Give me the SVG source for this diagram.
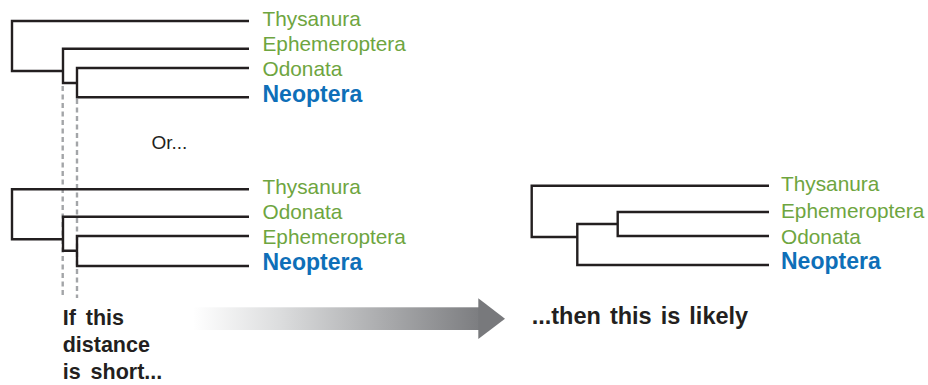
<svg xmlns="http://www.w3.org/2000/svg" width="928" height="385" viewBox="0 0 928 385">
  <defs>
    <style>
      .branch { fill: none; stroke: #231f20; stroke-width: 2.4; stroke-linejoin: miter; stroke-linecap: butt; }
      .guide { fill: none; stroke: #a3a5a8; stroke-width: 2.4; stroke-dasharray: 5 3.5; }
      .taxon { font-family: "Liberation Sans", Arial, sans-serif; font-size: 20.8px; fill: #6ea540; }
      .focus { font-family: "Liberation Sans", Arial, sans-serif; font-size: 23px; font-weight: bold; fill: #0e6fb8; }
      .note { font-family: "Liberation Sans", Arial, sans-serif; font-size: 19px; fill: #231f20; }
      .caption { font-family: "Liberation Sans", Arial, sans-serif; font-size: 21.5px; font-weight: bold; fill: #231f20; word-spacing: 4px; }
      .wide { font-size: 23.5px; word-spacing: 2.5px; }
    </style>
    <linearGradient id="arrowFade" x1="193" y1="0" x2="480" y2="0" gradientUnits="userSpaceOnUse">
      <stop offset="0" stop-color="#ffffff"/>
      <stop offset="0.3" stop-color="#dcddde"/>
      <stop offset="1" stop-color="#7c7d80"/>
    </linearGradient>
  </defs>

  <rect width="928" height="385" fill="#ffffff"/>

  <!-- dashed guides marking the two internal node depths -->
  <g id="guides">
    <line class="guide" x1="62.7" y1="86" x2="62.7" y2="298"/>
    <line class="guide" x1="77" y1="99" x2="77" y2="298"/>
  </g>

  <!-- tree branches -->
  <g id="connectors">
    <!-- upper tree -->
    <path class="branch" d="M249,21 H12 V71 H63"/>
    <path class="branch" d="M249,48.7 H63 V83 H77"/>
    <path class="branch" d="M249,68 H77 V97.3 H249"/>
    <!-- lower tree -->
    <path class="branch" d="M249,189.3 H12 V239.3 H63"/>
    <path class="branch" d="M249,216.7 H63 V250.7 H77"/>
    <path class="branch" d="M249,236 H77 V266 H249"/>
    <!-- resulting tree -->
    <path class="branch" d="M769,185.7 H531.7 V237 H577.3"/>
    <path class="branch" d="M769,212 H617.7 V236 H769"/>
    <path class="branch" d="M617.7,224 H577.3 V265 H769"/>
  </g>

  <!-- upper tree labels -->
  <g id="top-thysanura"><text class="taxon" x="262.5" y="25.7">Thysanura</text></g>
  <g id="top-ephemeroptera"><text class="taxon" x="262.5" y="50.7">Ephemeroptera</text></g>
  <g id="top-odonata"><text class="taxon" x="262.5" y="76">Odonata</text></g>
  <g id="top-neoptera"><text class="focus" x="262.5" y="101.7">Neoptera</text></g>

  <g id="or-label"><text class="note" x="151.5" y="149">Or...</text></g>

  <!-- lower tree labels -->
  <g id="low-thysanura"><text class="taxon" x="262.5" y="194">Thysanura</text></g>
  <g id="low-odonata"><text class="taxon" x="262.5" y="219.3">Odonata</text></g>
  <g id="low-ephemeroptera"><text class="taxon" x="262.5" y="243.5">Ephemeroptera</text></g>
  <g id="low-neoptera"><text class="focus" x="262.5" y="270">Neoptera</text></g>

  <!-- resulting tree labels -->
  <g id="res-thysanura"><text class="taxon" x="781" y="191">Thysanura</text></g>
  <g id="res-ephemeroptera"><text class="taxon" x="781" y="218.3">Ephemeroptera</text></g>
  <g id="res-odonata"><text class="taxon" x="781" y="244">Odonata</text></g>
  <g id="res-neoptera"><text class="focus" x="781" y="268.5">Neoptera</text></g>

  <!-- fading arrow -->
  <g id="arrow">
    <rect x="193" y="307.3" width="286" height="22.7" fill="url(#arrowFade)"/>
    <polygon points="478.3,298.3 505,318.7 478.3,339" fill="#78797c"/>
  </g>

  <g id="condition">
    <text class="caption" x="62.7" y="325">If this</text>
    <text class="caption" x="62.7" y="352.3">distance</text>
    <text class="caption" x="62.7" y="379">is short...</text>
  </g>

  <g id="conclusion">
    <text class="caption wide" x="531.7" y="324">...then this is likely</text>
  </g>
</svg>
